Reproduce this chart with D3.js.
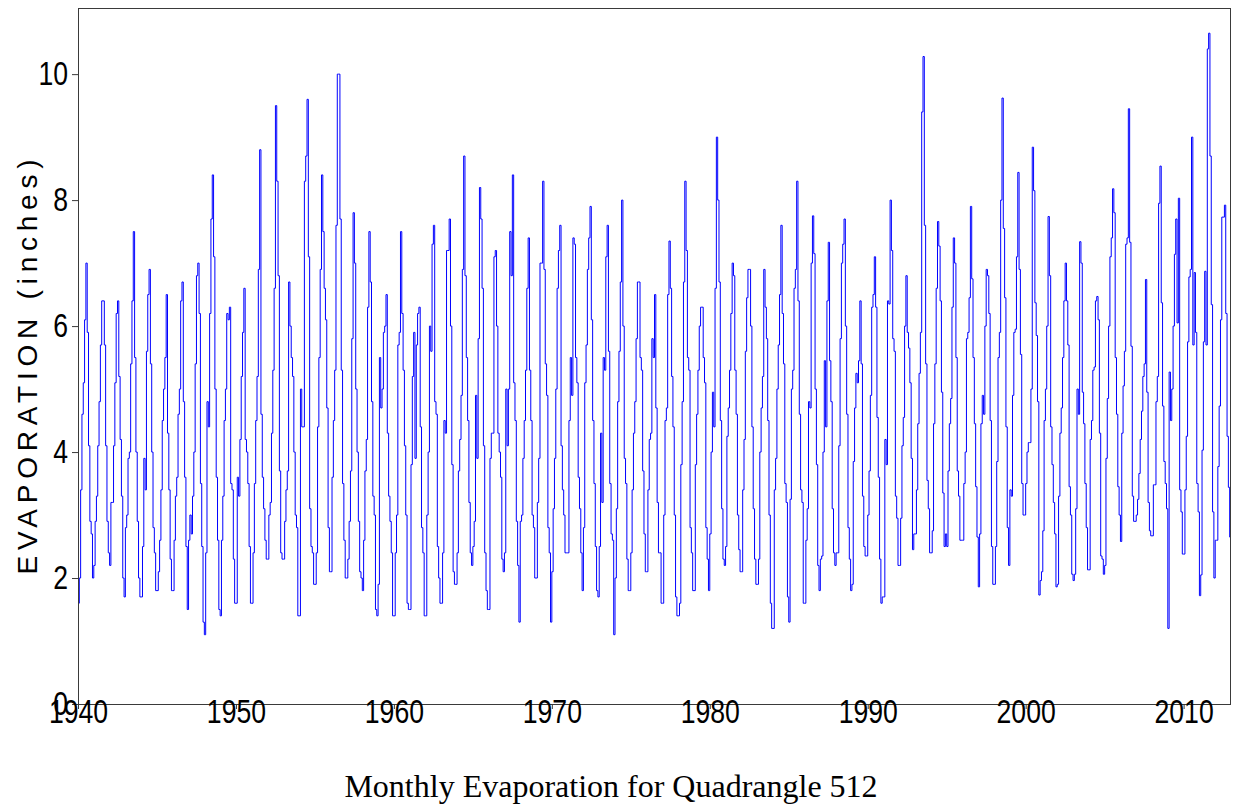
<!DOCTYPE html>
<html>
<head>
<meta charset="utf-8">
<script src="https://cdn.jsdelivr.net/npm/d3@7"></script>
<style>
  html, body { margin: 0; padding: 0; background: #fff; }
  svg { display: block; }
</style>
</head>
<body>
<svg id="chart" width="1233" height="811"></svg>
<script>
// ---- Data (monthly evaporation, inches), Jan 1940 .. Dec 2012 ----
const startYear = 1940;
const endYear = 2013;
const yTickValues = [0, 2, 4, 6, 8, 10];
const xTickValues = [1940, 1950, 1960, 1970, 1980, 1990, 2000, 2010];
const chartTitle = "Monthly Evaporation for Quadrangle 512";
const yTitle = "EVAPORATION (inches)";

const monthlyEvap = [
  1.6, 2.0, 3.4, 4.6, 5.1, 6.1, 7.0, 5.9, 4.1, 2.9, 2.7, 2.0,   // 1940
  2.2, 2.9, 3.3, 4.1, 4.8, 5.7, 6.4, 6.4, 5.7, 4.1, 2.9, 2.4,   // 1941
  2.2, 3.2, 3.2, 4.1, 5.1, 6.2, 6.4, 5.2, 4.2, 3.3, 2.0, 1.7,   // 1942
  2.8, 3.0, 3.9, 4.0, 5.4, 6.4, 7.5, 5.5, 4.0, 2.9, 2.0, 1.7,   // 1943
  1.7, 2.5, 3.9, 3.4, 5.6, 6.5, 6.9, 5.4, 4.0, 2.8, 2.4, 1.8,   // 1944
  1.8, 2.1, 2.6, 3.4, 4.5, 5.0, 5.5, 6.5, 4.3, 3.4, 2.3, 1.8,   // 1945
  1.8, 2.6, 3.3, 3.6, 4.6, 5.0, 6.4, 6.7, 4.8, 3.6, 2.5, 1.5,   // 1946
  2.6, 3.0, 2.7, 3.3, 4.0, 5.4, 6.8, 7.0, 6.2, 3.5, 2.5, 1.3,   // 1947
  1.1, 2.4, 4.8, 4.4, 6.2, 7.7, 8.4, 7.1, 5.0, 3.6, 2.6, 1.5,   // 1948
  1.4, 2.6, 3.3, 4.5, 5.0, 6.2, 6.1, 6.3, 3.5, 3.4, 2.3, 1.6,   // 1949
  1.6, 3.6, 3.3, 4.2, 5.2, 5.9, 6.6, 4.2, 4.0, 3.5, 2.5, 1.6,   // 1950
  1.6, 2.4, 3.5, 4.5, 5.2, 6.9, 8.8, 4.6, 3.6, 3.1, 2.6, 2.3,   // 1951
  2.3, 3.0, 3.2, 4.3, 5.3, 6.6, 9.5, 8.3, 6.8, 3.7, 2.4, 2.3,   // 1952
  2.3, 2.9, 3.4, 3.7, 6.7, 6.0, 5.5, 5.2, 4.0, 3.0, 2.8, 1.4,   // 1953
  1.4, 5.0, 4.4, 4.4, 8.3, 8.7, 9.6, 7.1, 3.1, 2.5, 2.4, 1.9,   // 1954
  1.9, 2.4, 4.4, 5.5, 6.9, 8.4, 7.5, 6.6, 6.1, 4.7, 2.8, 2.1,   // 1955
  2.1, 3.6, 4.5, 5.3, 7.6, 10.0, 10.0, 7.7, 5.3, 3.5, 2.6, 2.0, // 1956
  2.0, 2.3, 2.9, 3.7, 5.8, 7.8, 7.0, 5.0, 4.0, 2.9, 2.1, 2.0,   // 1957
  1.8, 2.6, 3.7, 4.2, 6.3, 7.5, 6.7, 4.8, 3.3, 3.0, 1.5, 1.4,   // 1958
  1.9, 5.5, 4.7, 5.0, 5.9, 6.0, 6.5, 4.3, 3.3, 2.9, 2.4, 1.4,   // 1959
  1.4, 2.4, 3.0, 5.7, 5.9, 7.5, 6.2, 5.3, 4.1, 3.0, 1.6, 1.5,   // 1960
  1.5, 3.8, 5.2, 5.9, 3.9, 5.7, 6.2, 6.3, 4.4, 2.8, 2.4, 1.4,   // 1961
  1.4, 3.0, 4.0, 6.0, 5.6, 7.3, 7.6, 4.8, 4.6, 2.5, 2.0, 1.6,   // 1962
  1.6, 2.4, 4.5, 4.3, 7.2, 7.2, 7.7, 6.0, 3.8, 2.1, 1.9, 1.9,   // 1963
  2.4, 3.7, 4.2, 4.9, 6.9, 8.7, 6.8, 5.5, 4.5, 3.2, 2.4, 2.2,   // 1964
  2.5, 2.9, 4.9, 3.9, 5.8, 8.2, 7.7, 6.6, 4.1, 2.4, 1.8, 1.5,   // 1965
  1.5, 3.9, 4.3, 4.3, 7.1, 7.2, 6.0, 4.3, 4.0, 3.6, 2.3, 2.1,   // 1966
  2.4, 5.0, 4.1, 5.0, 7.5, 6.8, 8.4, 5.1, 4.5, 2.9, 2.2, 1.3,   // 1967
  2.9, 3.0, 3.9, 4.5, 5.3, 6.6, 7.4, 5.3, 4.5, 3.0, 2.8, 2.0,   // 1968
  2.0, 3.2, 3.9, 7.0, 7.0, 8.3, 6.9, 5.4, 4.9, 2.8, 2.4, 1.3,   // 1969
  2.1, 3.1, 3.9, 5.0, 6.6, 7.2, 7.6, 4.1, 3.4, 3.0, 2.4, 2.4,   // 1970
  2.4, 4.5, 5.5, 4.9, 7.4, 7.3, 5.5, 5.1, 3.6, 3.1, 2.4, 1.8,   // 1971
  2.8, 5.1, 5.7, 6.9, 7.4, 7.9, 6.1, 4.5, 3.5, 2.5, 1.8, 1.7,   // 1972
  2.5, 4.3, 3.2, 5.5, 5.3, 7.1, 7.6, 5.6, 3.5, 2.7, 2.6, 1.1,   // 1973
  2.0, 3.1, 4.8, 5.6, 6.7, 8.0, 6.0, 3.9, 3.5, 2.3, 1.8, 1.8,   // 1974
  2.4, 3.4, 4.3, 4.8, 5.8, 6.7, 6.7, 5.5, 5.3, 3.7, 2.7, 2.1,   // 1975
  2.1, 3.4, 4.2, 4.3, 5.8, 5.5, 6.5, 4.7, 3.2, 2.4, 2.4, 1.6,   // 1976
  1.6, 3.0, 4.5, 4.7, 6.5, 7.35, 6.6, 5.2, 4.4, 3.0, 1.7, 1.4,  // 1977
  1.4, 1.6, 3.8, 4.8, 6.7, 8.3, 7.2, 5.5, 5.3, 2.8, 2.4, 1.8,   // 1978
  1.8, 3.8, 4.6, 5.3, 6.0, 6.3, 6.3, 5.5, 5.1, 2.8, 2.3, 1.8,   // 1979
  2.7, 4.0, 4.95, 4.4, 6.6, 9.0, 8.0, 6.7, 4.5, 3.1, 2.3, 2.2,  // 1980
  2.5, 4.25, 4.7, 5.3, 6.2, 7.0, 6.8, 5.3, 4.6, 3.0, 2.45, 2.1, // 1981
  2.1, 3.4, 4.2, 5.6, 6.45, 6.9, 6.9, 6.0, 4.4, 3.1, 2.3, 1.9,  // 1982
  1.9, 2.3, 4.0, 4.7, 5.2, 6.9, 6.3, 5.8, 4.5, 3.0, 1.6, 1.2,   // 1983
  1.2, 3.4, 3.9, 5.0, 5.7, 6.5, 7.6, 6.2, 5.4, 3.5, 3.2, 1.7,   // 1984
  1.3, 3.25, 5.0, 5.3, 6.6, 6.9, 8.3, 6.4, 4.6, 3.4, 3.2, 1.6,  // 1985
  1.6, 2.6, 3.1, 4.8, 4.7, 7.0, 7.75, 7.15, 5.0, 3.8, 2.2, 1.8, // 1986
  2.3, 2.35, 4.0, 5.45, 4.4, 6.4, 7.33, 5.45, 4.8, 3.1, 2.4, 2.2, // 1987
  2.4, 2.4, 4.1, 5.8, 7.0, 7.3, 7.7, 6.0, 4.6, 2.8, 2.3, 1.8,   // 1988
  1.9, 3.85, 4.7, 5.25, 5.1, 5.45, 6.4, 5.4, 3.3, 2.5, 2.35, 2.35, // 1989
  3.0, 3.7, 4.9, 6.3, 6.5, 7.1, 6.3, 4.55, 3.6, 2.3, 1.6, 1.7,  // 1990
  1.7, 4.2, 3.8, 6.4, 6.35, 8.0, 7.2, 5.8, 5.6, 3.3, 2.95, 2.2, // 1991
  2.2, 2.95, 4.1, 4.55, 6.0, 6.8, 5.9, 5.65, 5.1, 3.9, 2.45, 2.7, // 1992
  2.7, 3.4, 4.45, 5.25, 5.9, 9.4, 10.28, 7.6, 5.4, 3.55, 3.1, 2.4, // 1993
  2.4, 2.75, 4.45, 5.4, 6.6, 7.66, 7.27, 6.4, 4.95, 3.35, 2.5, 2.7, // 1994
  2.5, 3.7, 4.45, 4.85, 6.3, 7.4, 7.0, 5.5, 3.7, 3.3, 2.6, 2.6, // 1995
  2.6, 3.5, 4.0, 5.8, 5.9, 6.45, 7.9, 6.75, 5.5, 4.45, 3.45, 2.65, // 1996
  1.86, 2.7, 4.45, 4.9, 4.6, 6.0, 6.9, 6.8, 6.2, 4.5, 2.5, 1.9, // 1997
  1.9, 2.5, 3.85, 5.5, 5.9, 8.0, 9.62, 7.55, 6.45, 4.4, 2.8, 2.2, // 1998
  3.4, 3.3, 4.9, 5.9, 5.95, 7.1, 8.44, 6.9, 5.55, 3.5, 3.0, 3.0, // 1999
  3.5, 4.0, 4.15, 4.15, 5.0, 8.84, 8.15, 6.37, 5.85, 4.8, 1.73, 1.96, // 2000
  2.1, 2.75, 4.5, 5.0, 6.0, 7.74, 6.8, 4.4, 3.8, 3.2, 2.7, 1.86, // 2001
  1.9, 3.3, 4.3, 4.7, 5.5, 6.4, 7.0, 6.4, 5.7, 3.45, 3.0, 2.06, // 2002
  1.96, 2.06, 3.1, 5.0, 4.6, 7.34, 7.0, 4.95, 4.45, 3.5, 2.8, 2.13, // 2003
  2.13, 4.2, 4.5, 5.3, 5.35, 6.4, 6.47, 6.1, 4.3, 2.35, 2.3, 2.06, // 2004
  2.2, 3.9, 4.85, 6.0, 7.1, 7.4, 8.18, 7.8, 5.5, 4.6, 3.45, 3.0, // 2005
  2.58, 4.3, 5.05, 5.6, 7.3, 7.4, 9.45, 7.33, 5.68, 3.3, 2.9, 2.9, // 2006
  3.0, 3.25, 3.66, 4.2, 4.65, 5.2, 5.4, 6.74, 4.95, 3.2, 2.75, 2.67, // 2007
  2.67, 3.48, 3.48, 4.8, 5.2, 7.95, 8.54, 6.37, 4.73, 3.85, 3.5, 3.1, // 2008
  1.2, 5.27, 4.5, 5.0, 6.0, 7.14, 7.7, 6.05, 8.03, 3.4, 3.05, 2.38, // 2009
  2.38, 3.4, 4.25, 5.75, 6.78, 6.9, 9.0, 5.7, 6.85, 5.9, 3.5, 3.05, // 2010
  1.72, 2.05, 4.03, 5.75, 6.87, 5.7, 10.4, 10.65, 8.7, 6.34, 3.05, 2.0, // 2011
  2.6, 2.6, 3.77, 4.73, 6.1, 7.73, 7.73, 7.92, 6.2, 4.25, 3.44, 2.65  // 2012
];

// ---- Layout ----
const plot = { left: 78, top: 8, right: 1231, bottom: 704 };
const svg = d3.select("#chart");

const x = d3.scaleLinear().domain([startYear, endYear]).range([plot.left, plot.right]);
const y = d3.scaleLinear().domain([0, 11.05]).range([plot.bottom, plot.top]);

// points at the start of each month; step-after holds each value for the month
const pts = monthlyEvap.map((v, i) => ({ t: startYear + i / 12, v }));
pts.push({ t: endYear, v: monthlyEvap[monthlyEvap.length - 1] });

const line = d3.line()
  .x(d => x(d.t))
  .y(d => y(d.v))
  .curve(d3.curveStepAfter);

svg.append("path")
  .datum(pts)
  .attr("d", line)
  .attr("fill", "none")
  .attr("stroke", "#0000ff")
  .attr("stroke-width", 1);

// frame
svg.append("rect")
  .attr("x", plot.left + 0.5).attr("y", plot.top + 0.5)
  .attr("width", plot.right - plot.left - 1).attr("height", plot.bottom - plot.top)
  .attr("fill", "none").attr("stroke", "#3a3a3a").attr("stroke-width", 1);

const tickFont = "'Liberation Sans', Arial, sans-serif";
const digitW = 14.8;  // narrow digits as in the reference

// y axis
const yAxis = svg.append("g")
  .attr("transform", `translate(${plot.left},0)`)
  .call(d3.axisLeft(y).tickValues(yTickValues).tickFormat(d3.format("d")).tickSize(6).tickPadding(4));
yAxis.select(".domain").remove();
yAxis.selectAll("line").attr("stroke", "#3a3a3a");
yAxis.selectAll("text")
  .attr("font-family", tickFont).attr("font-size", 33).attr("fill", "#000")
  .attr("textLength", d => String(d).length * digitW)
  .attr("lengthAdjust", "spacingAndGlyphs");

// x axis
const xAxis = svg.append("g")
  .attr("transform", `translate(0,${plot.bottom})`)
  .call(d3.axisBottom(x).tickValues(xTickValues).tickFormat(d3.format("d")).tickSize(5));
xAxis.select(".domain").remove();
xAxis.selectAll("line").attr("stroke", "#3a3a3a");
xAxis.selectAll("text")
  .attr("font-family", tickFont).attr("font-size", 33).attr("fill", "#000")
  .attr("y", 19).attr("dy", 0)
  .attr("textLength", d => String(d).length * digitW)
  .attr("lengthAdjust", "spacingAndGlyphs");

// y title
svg.append("text")
  .attr("transform", "translate(37,367) rotate(-90)")
  .attr("text-anchor", "middle")
  .attr("font-family", "'Liberation Sans', Arial, sans-serif")
  .attr("font-size", 28)
  .attr("textLength", 415)
  .attr("lengthAdjust", "spacing")
  .text(yTitle);

// chart title
svg.append("text")
  .attr("x", 611).attr("y", 797)
  .attr("text-anchor", "middle")
  .attr("font-family", "'Liberation Serif', 'Times New Roman', serif")
  .attr("font-size", 32)
  .text(chartTitle);
</script>
</body>
</html>
